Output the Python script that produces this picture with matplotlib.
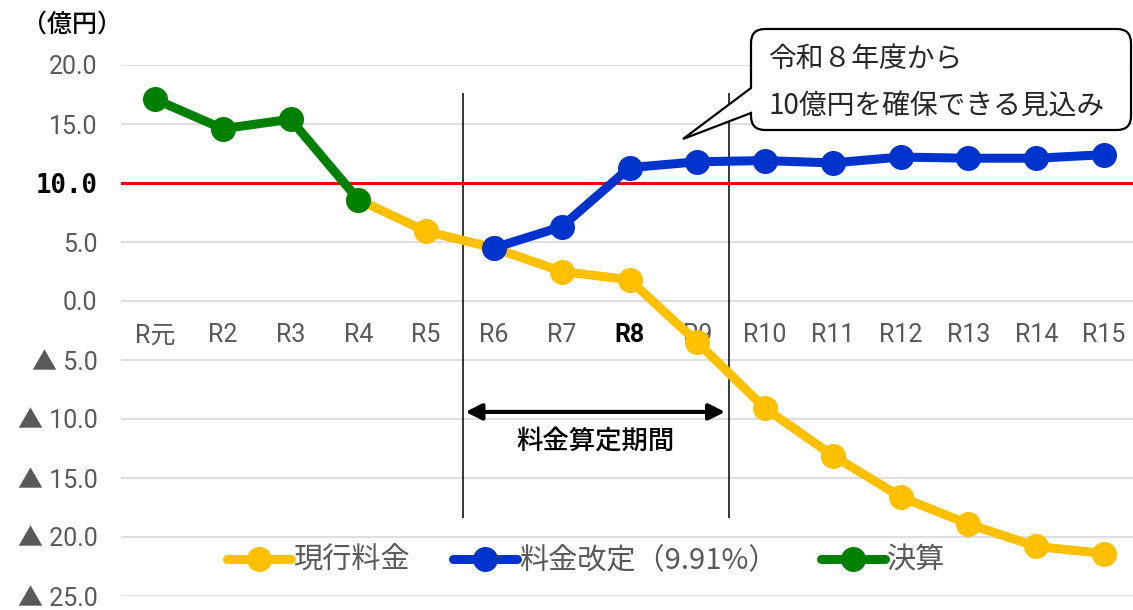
import matplotlib
matplotlib.use('Agg')
import matplotlib.pyplot as plt
from matplotlib.path import Path
from matplotlib.patches import PathPatch

plt.rcParams['font.family'] = ['Roboto', 'Noto Sans CJK JP', 'DejaVu Sans']

years = ['R元', 'R2', 'R3', 'R4', 'R5', 'R6', 'R7', 'R8', 'R9',
         'R10', 'R11', 'R12', 'R13', 'R14', 'R15']
kessan = [17.1, 14.6, 15.4, 8.6]                       # R元-R4
genko = [8.6, 5.9, 4.5, 2.5, 1.8, -3.5, -9.1, -13.1,
         -16.6, -18.9, -20.8, -21.4]                   # R4-R15
kaitei = [4.5, 6.3, 11.3, 11.8, 11.9, 11.7, 12.2, 12.1, 12.1, 12.4]  # R6-R15
yticks = [20, 15, 10, 5, 0, -5, -10, -15, -20, -25]
ytick_labels = ['20.0', '15.0', '10.0', '5.0', '0.0', '▲ 5.0', '▲ 10.0',
                '▲ 15.0', '▲ 20.0', '▲ 25.0']
target = 10.0

W, H = 1133, 610
fig = plt.figure(figsize=(W / 100, H / 100), dpi=100)
ax = fig.add_axes([121 / W, 14 / H, 1017 / W, 531 / H])

x = list(range(len(years)))
lw, ms = 6.5, 17
ax.plot(x[3:], genko, color='#FFC000', lw=lw, marker='o', ms=ms,
        label='現行料金', zorder=3, solid_capstyle='round')
ax.plot(x[5:], kaitei, color='#0033CC', lw=lw, marker='o', ms=ms,
        label='料金改定（9.91%）', zorder=4, solid_capstyle='round')
ax.plot(x[:4], kessan, color='#008000', lw=lw, marker='o', ms=ms,
        label='決算', zorder=5, solid_capstyle='round')
ax.axhline(target, color='#FF0000', lw=2.2, zorder=3.5)

ax.set_xlim(-0.5, 14.5)
ax.set_ylim(-25, 20)
ax.set_yticks(yticks)
ax.set_yticklabels(ytick_labels)
ax.tick_params(axis='y', length=0, pad=17, labelsize=18, labelcolor='#595959')
for t in ax.get_yticklabels():
    if t.get_text() == '10.0':
        t.set_color('black')
        t.set_fontweight('bold')
        t.set_family(['DejaVu Sans Mono'])
        t.set_fontsize(18.5)
ax.set_xticks([])
ax.grid(axis='y', color='#D9D9D9', lw=1.2, zorder=0)
for s in ax.spines.values():
    s.set_visible(False)

# category labels sit just under the zero line
for i, lab in enumerate(years):
    if lab == 'R8':
        ax.text(i, -2.9, lab, ha='center', va='center', fontsize=18,
                color='black', fontweight='bold', zorder=6)
    else:
        ax.text(i, -2.9, lab, ha='center', va='center', fontsize=18,
                color='#595959', zorder=2)

fig.text(22 / W, 1 - 25 / H, '（億円）', fontsize=18, color='black',
         ha='left', va='center', family=['Noto Sans CJK JP'], fontweight='medium')

# rate calculation period
ax.vlines([4.54, 8.47], -18.4, 17.6, color='black', lw=1.1, zorder=2)
ax.annotate('', xy=(4.58, -9.4), xytext=(8.41, -9.4),
            arrowprops=dict(arrowstyle='<|-|>', color='black', lw=3,
                            mutation_scale=24, shrinkA=0, shrinkB=0))
ax.text(6.5, -11.95, '料金算定期間', ha='center', va='center', fontsize=19,
        color='black', family=['Noto Sans CJK JP'], fontweight='medium')

# callout balloon
L, R, T, B, r = 751, 1131, 29, 130, 14
ty1, ty2, tip = 88, 113, (683, 139)
pts = [(L + r, T), (R - r, T), (R, T), (R, T + r), (R, B - r), (R, B),
       (R - r, B), (L + r, B), (L, B), (L, B - r), (L, ty2), tip, (L, ty1),
       (L, T + r), (L, T), (L + r, T), (L + r, T)]
codes = [Path.MOVETO, Path.LINETO, Path.CURVE3, Path.CURVE3, Path.LINETO,
         Path.CURVE3, Path.CURVE3, Path.LINETO, Path.CURVE3, Path.CURVE3,
         Path.LINETO, Path.LINETO, Path.LINETO, Path.LINETO, Path.CURVE3,
         Path.CURVE3, Path.CLOSEPOLY]
pts = [(px / W, 1 - py / H) for px, py in pts]
fig.add_artist(PathPatch(Path(pts, codes), facecolor='white', edgecolor='black',
                         lw=1.6, transform=fig.transFigure, zorder=10))
fig.text(768 / W, 1 - 59 / H, '令和８年度から', fontsize=20, color='#262626',
         ha='left', va='center', family=['Noto Sans CJK JP'], zorder=11)
fig.text(768 / W, 1 - 107 / H, '10億円を確保できる見込み', fontsize=20,
         color='#262626', ha='left', va='center', family=['Noto Sans CJK JP'],
         zorder=11)

leg = ax.legend(loc='center', bbox_to_anchor=(586 / W, 1 - 561 / H),
                bbox_transform=fig.transFigure, ncol=3, frameon=False,
                handlelength=2.2, handletextpad=0.05, columnspacing=1.5,
                prop={'family': ['Noto Sans CJK JP'], 'size': 21})
for t in leg.get_texts():
    t.set_color('#595959')

fig.savefig('out.png', dpi=100)
